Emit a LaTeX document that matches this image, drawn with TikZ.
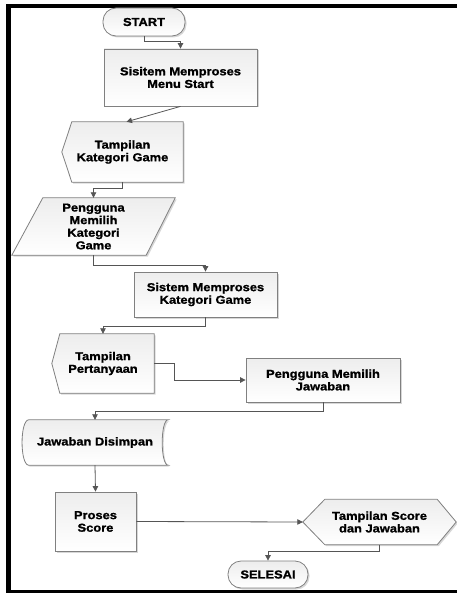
\documentclass[tikz,border=0pt]{standalone}
\usepackage{fontspec}
\setmainfont{Liberation Sans}[FakeStretch=1.12, BoldFeatures={FakeBold=1.2}]
\usetikzlibrary{arrows.meta,shadows,backgrounds}
\definecolor{linec}{RGB}{85,85,85}
\definecolor{edgec}{RGB}{128,128,128}
\tikzset{
  shp/.style={draw=edgec, line width=0.8bp, top color=gray!14, bottom color=white,
    drop shadow={shadow xshift=1.5bp, shadow yshift=-1.5bp, fill=gray!70, opacity=0.45}},
  txt/.style={inner sep=0pt, align=center, font=\fontsize{11.5bp}{12.6bp}\selectfont\bfseries},
  boxn/.style={txt, shp},
  term/.style={txt, shp, rounded corners=13bp},
  arr/.style={draw=linec, line width=0.8bp, -{Triangle[length=5.5bp,width=5.5bp]}}
}
\begin{document}
\begin{tikzpicture}[x=1bp,y=-1bp]
\useasboundingbox (0,0) rectangle (457,593);
% frame
\fill[black] (6,4) rectangle (457,8);
\fill[black] (6,4) rectangle (11,593);
\fill[black] (6,590) rectangle (457,593);

% nodes
\node[term, minimum width=82bp, minimum height=28bp] (start) at (144,22) {START};
\node[boxn, minimum width=153bp, minimum height=57bp] (p1) at (180.5,77.5) {Sisitem Memproses\\Menu Start};
\node[txt, minimum width=121bp, minimum height=60bp] (d1) at (122.5,152) {Tampilan\\Kategori Game};
\node[txt, minimum width=163bp, minimum height=57bp] (par) at (93.5,226.5) {Pengguna\\Memilih\\Kategori\\Game};
\node[boxn, minimum width=143bp, minimum height=45bp] (p2) at (205.5,294.5) {Sistem Memproses\\Kategori Game};
\node[txt, minimum width=102bp, minimum height=59bp] (d2) at (103,363.5) {Tampilan\\Pertanyaan};
\node[boxn, minimum width=154bp, minimum height=44bp] (p3) at (323,380) {Pengguna Memilih\\Jawaban};
\node[txt, minimum width=146bp, minimum height=45bp] (st) at (95,442.5) {Jawaban Disimpan};
\node[boxn, minimum width=81bp, minimum height=59bp] (p4) at (95.5,521.5) {Proses\\Score};
\node[txt, minimum width=153bp, minimum height=45bp] (d3) at (379.5,522) {Tampilan Score\\dan Jawaban};
\node[term, minimum width=80bp, minimum height=27bp] (end) at (268,574.5) {SELESAI};

\begin{pgfonlayer}{background}
  % display shapes
  \path[shp] (d1.west) -- ([xshift=10bp]d1.north west) -- (d1.north east) -- (d1.south east) -- ([xshift=10bp]d1.south west) -- cycle;
  \path[shp] (d2.west) -- ([xshift=8bp]d2.north west) -- (d2.north east) -- (d2.south east) -- ([xshift=8bp]d2.south west) -- cycle;
  \path[shp] (d3.west) -- ([xshift=22bp]d3.north west) -- ([xshift=-19bp]d3.north east) -- (d3.east) -- ([xshift=-19bp]d3.south east) -- ([xshift=22bp]d3.south west) -- cycle;
  % parallelogram
  \path[shp] ([xshift=31bp]par.north west) -- (par.north east) -- ([xshift=-29bp]par.south east) -- (par.south west) -- cycle;
  % stored data
  \path[shp] ([xshift=7bp]st.north west) -- (st.north east)
     .. controls ([xshift=-8bp]st.north east) and ([xshift=-8bp]st.south east) .. (st.south east)
     -- ([xshift=7bp]st.south west)
     .. controls ([xshift=-2bp]st.south west) and ([xshift=-2bp]st.north west) .. ([xshift=7bp]st.north west) -- cycle;
\end{pgfonlayer}

% connectors
\draw[arr] (start.south) -- ++(0,5) -| (p1.north);
\draw[arr] (p1.south) -- ([xshift=4bp]d1.north);
\draw[arr] (d1.south) -- ++(0,6) -| (par.north);
\draw[arr] (par.south) -- ++(0,10) -| (p2.north);
\draw[arr] (p2.south) -- ++(0,9) -| (d2.north);
\draw[arr] (d2.east) -- ++(20,0) |- (p3.west);
\draw[arr] (p3.south) -- ++(0,9) -| (st.north);
\draw[arr] (st.south) -- (p4.north);
\draw[arr] (p4.east) -- (d3.west);
\draw[arr] (d3.south) -- ++(0,7) -| (end.north);
\end{tikzpicture}
\end{document}
